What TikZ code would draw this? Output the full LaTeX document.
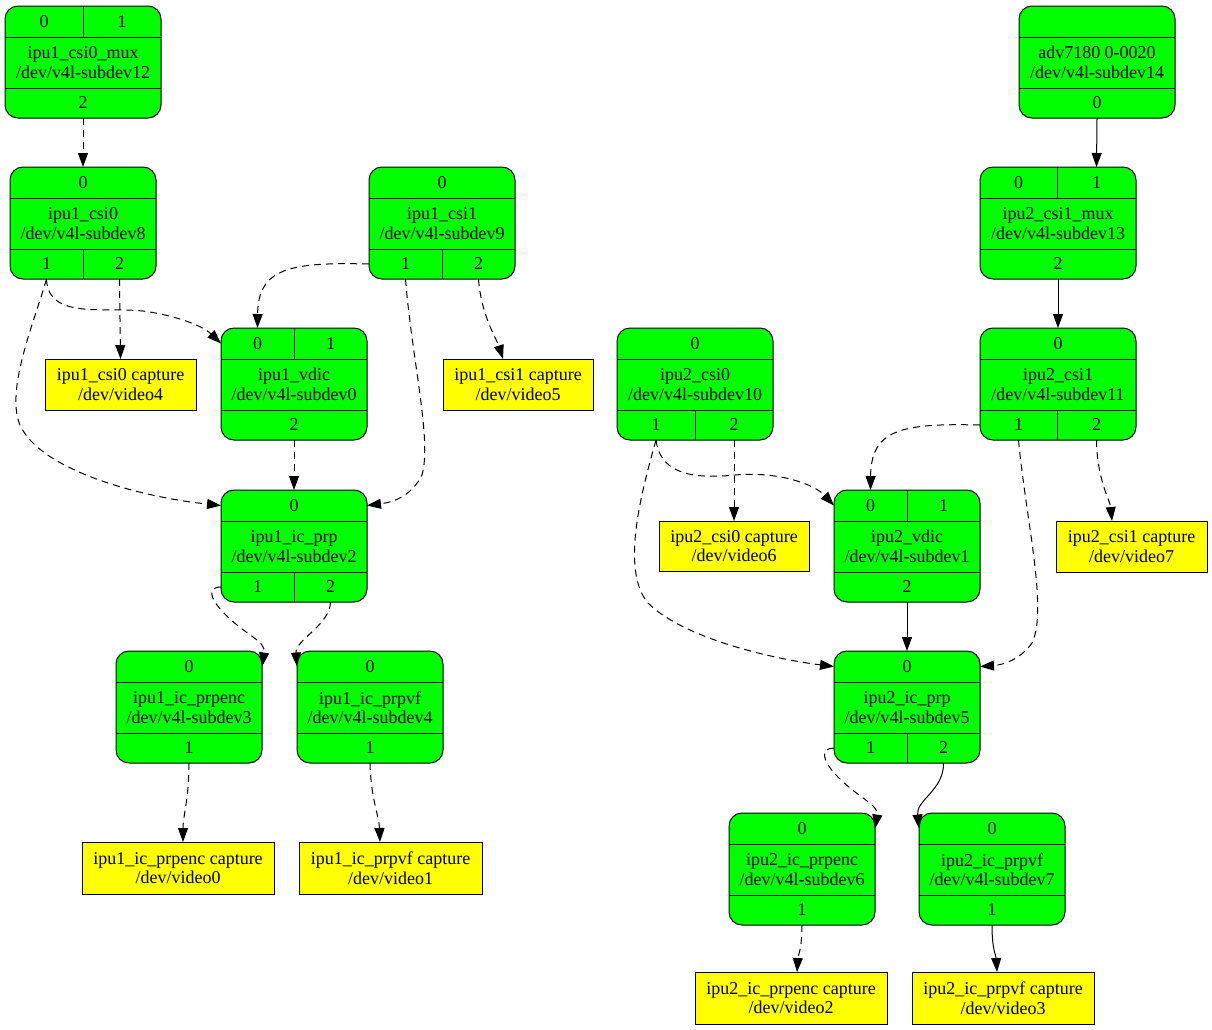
\documentclass[tikz,border=0pt]{standalone}
\usepackage{fontspec}
\setmainfont{Liberation Serif}
\usetikzlibrary{arrows.meta}
\definecolor{gg}{HTML}{00FF00}
\definecolor{yy}{HTML}{FFFF00}
\newcommand\lbl{\fontsize{18}{19.5}\selectfont}
\tikzset{
  gbox/.style={draw=black, fill=gg, rounded corners=13pt, line width=1pt, inner sep=0pt, outer sep=0pt, minimum height=112pt},
  ybox/.style={draw=black, fill=yy, line width=1pt, inner sep=0pt, outer sep=0pt, align=center, font=\lbl, anchor=north west},
  cell/.style={inner sep=0pt, outer sep=0pt, font=\lbl},
  divl/.style={line width=1pt},
  de/.style={line width=1pt, dash pattern=on 7pt off 5pt, -{Triangle[length=14pt,width=10pt]}},
  se/.style={line width=1pt, -{Triangle[length=14pt,width=10pt]}}
}
% #1 name, #2 left, #3 top, #4 width, #5 label
\newcommand\grec[5]{%
  \node[gbox, minimum width=#4pt, anchor=north west] (#1) at (#2,#3) {};
  \draw[divl] (#2,#3+31) -- ++(#4,0);
  \draw[divl] (#2,#3+82) -- ++(#4,0);
  \node[cell, align=center] (#1-lab) at ({#2+#4/2},#3+56.5) {#5};
}
% #1 name, #2 left, #3 top, #4 width, #5 port, #6 text
\newcommand\topone[6]{\node[cell, minimum width=#4pt, minimum height=31pt] (#1-#5) at ({#2+#4/2},#3+15.5) {#6};}
\newcommand\botone[6]{\node[cell, minimum width=#4pt, minimum height=30pt] (#1-#5) at ({#2+#4/2},#3+97) {#6};}
% #1 name, #2 left, #3 top, #4 width, #5 split x
\newcommand\topsplit[5]{%
  \draw[divl] (#5,#3) -- (#5,#3+31);
  \node[cell, minimum width=#5pt-#2pt, minimum height=31pt] (#1-p0) at ({(#2+#5)/2},#3+15.5) {0};
  \node[cell, minimum width=#2pt+#4pt-#5pt, minimum height=31pt] (#1-p1) at ({(#5+#2+#4)/2},#3+15.5) {1};
}
\newcommand\botsplit[5]{%
  \draw[divl] (#5,#3+82) -- (#5,#3+112);
  \node[cell, minimum width=#5pt-#2pt, minimum height=30pt] (#1-p1) at ({(#2+#5)/2},#3+97) {1};
  \node[cell, minimum width=#2pt+#4pt-#5pt, minimum height=30pt] (#1-p2) at ({(#5+#2+#4)/2},#3+97) {2};
}
\begin{document}
\begin{tikzpicture}[x=1pt, y=-1pt]
\useasboundingbox (0,0) rectangle (1212,1029);

% ---------- left half ----------
\grec{muxA}{5}{6}{156}{ipu1\_csi0\_mux\\/dev/v4l-subdev12}
\topsplit{muxA}{5}{6}{156}{83}
\botone{muxA}{5}{6}{156}{p2}{2}

\grec{csiA0}{10}{167}{146}{ipu1\_csi0\\/dev/v4l-subdev8}
\topone{csiA0}{10}{167}{146}{p0}{0}
\botsplit{csiA0}{10}{167}{146}{83}

\grec{csiA1}{369}{167}{146}{ipu1\_csi1\\/dev/v4l-subdev9}
\topone{csiA1}{369}{167}{146}{p0}{0}
\botsplit{csiA1}{369}{167}{146}{442}

\grec{vdicA}{221}{328}{146}{ipu1\_vdic\\/dev/v4l-subdev0}
\topsplit{vdicA}{221}{328}{146}{294}
\botone{vdicA}{221}{328}{146}{p2}{2}

\grec{prpA}{221}{490}{146}{ipu1\_ic\_prp\\/dev/v4l-subdev2}
\topone{prpA}{221}{490}{146}{p0}{0}
\botsplit{prpA}{221}{490}{146}{294}

\grec{encA}{116}{651}{146}{ipu1\_ic\_prpenc\\/dev/v4l-subdev3}
\topone{encA}{116}{651}{146}{p0}{0}
\botone{encA}{116}{651}{146}{p1}{1}

\grec{vfA}{297}{651}{146}{ipu1\_ic\_prpvf\\/dev/v4l-subdev4}
\topone{vfA}{297}{651}{146}{p0}{0}
\botone{vfA}{297}{651}{146}{p1}{1}

\node[ybox, minimum width=151pt, minimum height=51pt] (capA0) at (45,359) {ipu1\_csi0 capture\\/dev/video4};
\node[ybox, minimum width=150pt, minimum height=51pt] (capA1) at (443,359) {ipu1\_csi1 capture\\/dev/video5};
\node[ybox, minimum width=192pt, minimum height=52pt] (capEncA) at (82,842) {ipu1\_ic\_prpenc capture\\/dev/video0};
\node[ybox, minimum width=183pt, minimum height=52pt] (capVfA) at (299,842) {ipu1\_ic\_prpvf capture\\/dev/video1};

% ---------- right half ----------
\grec{adv}{1019}{6}{156}{adv7180 0-0020\\/dev/v4l-subdev14}
\botone{adv}{1019}{6}{156}{p0}{0}

\grec{muxB}{980}{167}{156}{ipu2\_csi1\_mux\\/dev/v4l-subdev13}
\topsplit{muxB}{980}{167}{156}{1057}
\botone{muxB}{980}{167}{156}{p2}{2}

\grec{csiB1}{980}{328}{156}{ipu2\_csi1\\/dev/v4l-subdev11}
\topone{csiB1}{980}{328}{156}{p0}{0}
\botsplit{csiB1}{980}{328}{156}{1057}

\grec{csiB0}{617}{328}{156}{ipu2\_csi0\\/dev/v4l-subdev10}
\topone{csiB0}{617}{328}{156}{p0}{0}
\botsplit{csiB0}{617}{328}{156}{695}

\grec{vdicB}{834}{490}{146}{ipu2\_vdic\\/dev/v4l-subdev1}
\topsplit{vdicB}{834}{490}{146}{907}
\botone{vdicB}{834}{490}{146}{p2}{2}

\grec{prpB}{834}{651}{146}{ipu2\_ic\_prp\\/dev/v4l-subdev5}
\topone{prpB}{834}{651}{146}{p0}{0}
\botsplit{prpB}{834}{651}{146}{907}

\grec{encB}{729}{813}{146}{ipu2\_ic\_prpenc\\/dev/v4l-subdev6}
\topone{encB}{729}{813}{146}{p0}{0}
\botone{encB}{729}{813}{146}{p1}{1}

\grec{vfB}{919}{813}{146}{ipu2\_ic\_prpvf\\/dev/v4l-subdev7}
\topone{vfB}{919}{813}{146}{p0}{0}
\botone{vfB}{919}{813}{146}{p1}{1}

\node[ybox, minimum width=150pt, minimum height=50pt] (capB0) at (659,521) {ipu2\_csi0 capture\\/dev/video6};
\node[ybox, minimum width=151pt, minimum height=51pt] (capB1) at (1056,521) {ipu2\_csi1 capture\\/dev/video7};
\node[ybox, minimum width=192pt, minimum height=52pt] (capEncB) at (695,972) {ipu2\_ic\_prpenc capture\\/dev/video2};
\node[ybox, minimum width=182pt, minimum height=52pt] (capVfB) at (912,972) {ipu2\_ic\_prpvf capture\\/dev/video3};

% ---------- edges, left ----------
\draw[de] (muxA-p2.south) -- (csiA0-p0.north);
\draw[de] (csiA0-p1.south) .. controls (48,322) and (110,305) .. (150,312) .. controls (185,318) and (205,328) .. (vdicA-p0.west);
\draw[de] (csiA0-p1.south) .. controls (35,320) and (5,390) .. (20,425) .. controls (40,470) and (140,497) .. (prpA-p0.west);
\draw[de] (csiA0-p2.south) -- (capA0.north);
\draw[de] (csiA1-p1.west) .. controls (290,262) and (258,268) .. (vdicA-p0.north);
\draw[de] (csiA1-p1.south) .. controls (412,360) and (432,440) .. (422,475) .. controls (412,495) and (395,502) .. (prpA-p0.east);
\draw[de] (csiA1-p2.south) .. controls (481,315) and (497,340) .. ([xshift=60pt]capA1.north west);
\draw[de] (vdicA-p2.south) -- (prpA-p0.north);
\draw[de] (prpA-p1.west) .. controls (207,587) and (210,598) .. (222,611) .. controls (245,636) and (266,640) .. (encA-p0.east);
\draw[de] (prpA-p2.south) .. controls (330,625) and (295,640) .. (vfA-p0.west);
\draw[de] (encA-p1.south) .. controls (189,800) and (183,815) .. ([xshift=101pt]capEncA.north west);
\draw[de] (vfA-p1.south) .. controls (371,800) and (379,815) .. ([xshift=81pt]capVfA.north west);

% ---------- edges, right ----------
\draw[se] (adv-p0.south) -- (muxB-p1.north);
\draw[se] (muxB-p2.south) -- (csiB1-p0.north);
\draw[de] (csiB1-p1.west) .. controls (900,423) and (871,430) .. (vdicB-p0.north);
\draw[de] (csiB1-p1.south) .. controls (1026,520) and (1048,610) .. (1032,643) .. controls (1020,660) and (1002,665) .. (prpB-p0.east);
\draw[de] (csiB1-p2.south) .. controls (1097,480) and (1110,500) .. ([xshift=56pt]capB1.north west);
\draw[de] (csiB0-p1.south) .. controls (660,470) and (685,480) .. (735,475) .. controls (780,471) and (815,485) .. (vdicB-p0.west);
\draw[de] (csiB0-p1.south) .. controls (642,490) and (620,570) .. (648,603) .. controls (685,640) and (780,660) .. (prpB-p0.west);
\draw[de] (csiB0-p2.south) -- (capB0.north);
\draw[se] (vdicB-p2.south) -- (prpB-p0.north);
\draw[de] (prpB-p1.west) .. controls (820,748) and (822,760) .. (836,775) .. controls (858,798) and (879,805) .. (encB-p0.east);
\draw[se] (prpB-p2.south) .. controls (944,790) and (916,800) .. (vfB-p0.west);
\draw[de] (encB-p1.south) .. controls (802,950) and (798,955) .. ([xshift=102pt]capEncB.north west);
\draw[se] (vfB-p1.south) .. controls (992,950) and (996,955) .. ([xshift=85pt]capVfB.north west);
\end{tikzpicture}
\end{document}
